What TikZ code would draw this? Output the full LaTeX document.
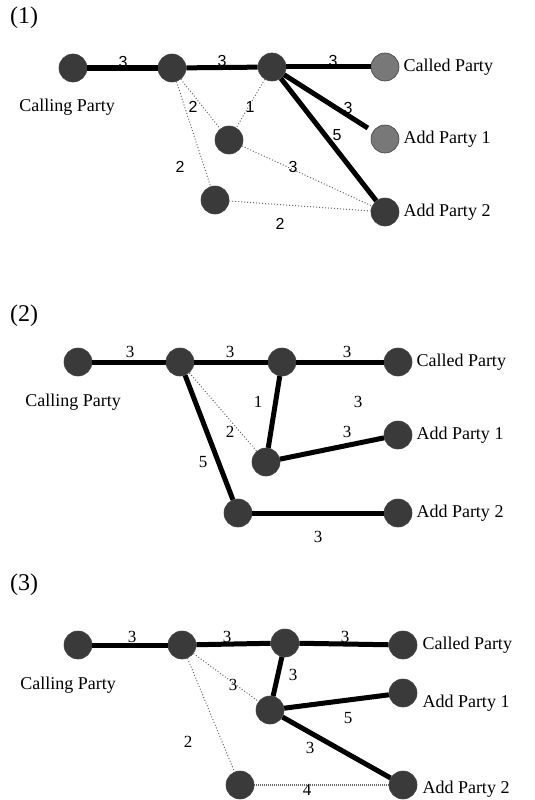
\documentclass[tikz,border=0pt]{standalone}
\usepackage{fontspec}
\setmainfont{Liberation Serif}
\newfontfamily\digitfont{Liberation Sans}
\usetikzlibrary{positioning}
\definecolor{hostgray}{RGB}{58,58,58}
\definecolor{endgray}{RGB}{120,120,120}
\tikzstyle{host} = [circle, fill=hostgray, draw=black!75, line width=0.6pt,
    minimum size=28pt, inner sep=0pt]
\tikzstyle{endhost} = [host, fill=endgray]
\tikzstyle{party} = [inner sep=0pt, font=\fontsize{18}{20}\selectfont]
\tikzstyle{caseno} = [inner sep=0pt, font=\fontsize{24}{26}\selectfont]
\tikzstyle{trunk} = [line width=5pt]
\tikzstyle{spare} = [dotted, line width=1pt, draw=black!60]
\tikzstyle{cost} = [inner sep=0pt, font=\fontsize{17}{19}\selectfont]
\tikzstyle{costsf} = [inner sep=0pt, font=\digitfont\fontsize{16}{18}\selectfont]

\begin{document}
\begin{tikzpicture}[x=1pt, y=-1pt]
    \useasboundingbox (0,0) rectangle (535,800);

    % ---- case (1)
    \node[caseno] (t1) at (24,18) {(1)};
    \node[host] (a1) at (73,68) {};
    \node[host] (b1) at (172,68) {};
    \node[host] (c1) at (272,67) {};
    \node[endhost] (d1) at (385,67) {};
    \node[host] (e1) at (229,140) {};
    \node[endhost] (f1) at (385,139) {};
    \node[host] (g1) at (215,200) {};
    \node[host] (h1) at (385,212) {};
    \node[party, right=4pt of d1] (nd1) {Called Party};
    \node[party, below=17pt of a1, xshift=-6pt] (na1) {Calling Party};
    \node[party, right=4pt of f1] (nf1) {Add Party 1};
    \node[party, right=4pt of h1] (nh1) {Add Party 2};

    \draw[trunk] (a1) -- (b1);
    \draw[trunk] (b1) -- (c1);
    \draw[trunk] (c1) -- (d1);
    \draw[trunk, shorten >=6pt] (c1) -- (f1);
    \draw[trunk] (c1) -- (h1);
    \draw[spare] (b1) -- (e1);
    \draw[spare] (c1) -- (e1);
    \draw[spare] (b1) -- (g1);
    \draw[spare] (e1) -- (h1);
    \draw[spare] (g1) -- (h1);

    \node[costsf] (w1ab) at (123,62) {3};
    \node[costsf] (w1bc) at (222,61) {3};
    \node[costsf] (w1cd) at (333,61) {3};
    \node[costsf] (w1be) at (193,107) {2};
    \node[costsf] (w1ce) at (250,107) {1};
    \node[costsf] (w1bg) at (180,167) {2};
    \node[costsf] (w1eh) at (293,167) {3};
    \node[costsf] (w1gh) at (280,224) {2};
    \node[costsf] (w1cf) at (348,108) {3};
    \node[costsf] (w1ch) at (337,135) {5};

    % ---- case (2)
    \node[caseno] (t2) at (24,316) {(2)};
    \node[host] (a2) at (78,362) {};
    \node[host] (b2) at (180,362) {};
    \node[host] (c2) at (282,362) {};
    \node[host] (d2) at (398,362) {};
    \node[host] (e2) at (266,462) {};
    \node[host] (f2) at (398,435) {};
    \node[host] (g2) at (238,513) {};
    \node[host] (h2) at (398,513) {};
    \node[party, right=4pt of d2] (nd2) {Called Party};
    \node[party, below=18pt of a2, xshift=-5pt] (na2) {Calling Party};
    \node[party, right=4pt of f2] (nf2) {Add Party 1};
    \node[party, right=4pt of h2] (nh2) {Add Party 2};

    \draw[trunk] (a2) -- (b2);
    \draw[trunk] (b2) -- (c2);
    \draw[trunk] (c2) -- (d2);
    \draw[trunk] (c2) -- (e2);
    \draw[trunk] (e2) -- (f2);
    \draw[trunk] (b2) -- (g2);
    \draw[trunk] (g2) -- (h2);
    \draw[spare] (b2) -- (e2);

    \node[cost] (w2ab) at (130,352) {3};
    \node[cost] (w2bc) at (230,352) {3};
    \node[cost] (w2cd) at (347,352) {3};
    \node[cost] (w2ce) at (258,402) {1};
    \node[cost] (w2be) at (230,432) {2};
    \node[cost] (w2bg) at (203,462) {5};
    \node[cost] (w2ef) at (347,432) {3};
    \node[cost] (w2xx) at (358,402) {3};
    \node[cost] (w2gh) at (318,537) {3};

    % ---- case (3)
    \node[caseno] (t3) at (24,585) {(3)};
    \node[host] (a3) at (78,645) {};
    \node[host] (b3) at (182,645) {};
    \node[host] (c3) at (285,643) {};
    \node[host] (d3) at (403,645) {};
    \node[host] (e3) at (270,710) {};
    \node[host] (f3) at (403,693) {};
    \node[host] (g3) at (240,785) {};
    \node[host] (h3) at (403,785) {};
    \node[party, right=5pt of d3] (nd3) {Called Party};
    \node[party, below=18pt of a3, xshift=-10pt] (na3) {Calling Party};
    \node[party, right=5pt of f3, yshift=-10pt] (nf3) {Add Party 1};
    \node[party, right=5pt of h3, yshift=-4pt] (nh3) {Add Party 2};

    \draw[trunk] (a3) -- (b3);
    \draw[trunk] (b3) -- (c3);
    \draw[trunk] (c3) -- (d3);
    \draw[trunk] (c3) -- (e3);
    \draw[trunk] (e3) -- (f3);
    \draw[trunk] (e3) -- (h3);
    \draw[spare] (b3) -- (e3);
    \draw[spare] (b3) -- (g3);
    \draw[spare, densely dotted, line width=1.4pt] (g3) -- (h3);

    \node[cost] (w3ab) at (132,637) {3};
    \node[cost] (w3bc) at (227,637) {3};
    \node[cost] (w3cd) at (345,637) {3};
    \node[cost] (w3ce) at (293,675) {3};
    \node[cost] (w3be) at (233,685) {3};
    \node[cost] (w3bg) at (188,742) {2};
    \node[cost] (w3ef) at (348,718) {5};
    \node[cost] (w3eh) at (310,748) {3};
    \node[cost] (w3gh) at (307,790) {4};
\end{tikzpicture}
\end{document}
